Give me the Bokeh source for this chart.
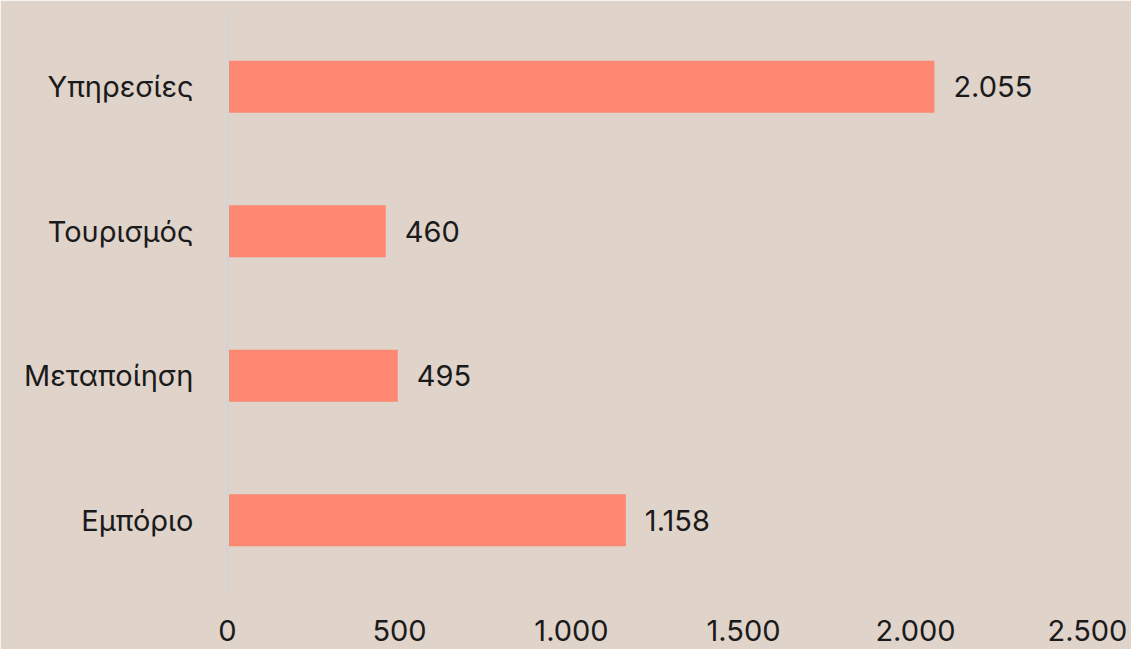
from bokeh.plotting import figure
from bokeh.models import Range1d, FactorRange, FixedTicker, ColumnDataSource
from bokeh.core.properties import value
from bokeh.embed import file_html
from bokeh.resources import INLINE

categories = ["Εμπόριο", "Μεταποίηση", "Τουρισμός", "Υπηρεσίες"]
values = [1158, 495, 460, 2055]
tick_values = [0, 500, 1000, 1500, 2000, 2500]
tick_labels = ["0", "500", "1.000", "1.500", "2.000", "2.500"]

BG = "#DFD3CA"
BAR = "#FF8873"
FONT = "Inter"
FS = "29px"
TXT = "#1a1a1a"

labels = [format(v, ",").replace(",", ".") for v in values]
src = ColumnDataSource(dict(cat=categories, val=values, lab=labels))

p = figure(width=1131, height=649, y_range=FactorRange(*categories),
           x_range=Range1d(0, 2500), output_backend="svg", toolbar_location=None,
           min_border_left=227, min_border_right=44, min_border_top=14, min_border_bottom=57)
p.background_fill_color = BG
p.border_fill_color = BG
p.outline_line_color = BG
p.outline_line_width = 2
p.xgrid.visible = False
p.ygrid.visible = False

p.hbar(y="cat", right="val", left=0, height=0.36, source=src, color=BAR, line_color=None)
p.text(x="val", y="cat", text="lab", source=src, x_offset=19, text_baseline="middle",
       text_align="left", text_font=value(FONT), text_font_size=FS, text_color=TXT)

xa = p.xaxis[0]
xa.ticker = FixedTicker(ticks=tick_values)
xa.major_label_overrides = {t: l for t, l in zip(tick_values, tick_labels)}
xa.axis_line_color = None
xa.major_tick_line_color = None
xa.minor_tick_line_color = None
xa.major_label_standoff = 21
xa.major_label_text_font = FONT
xa.major_label_text_font_size = FS
xa.major_label_text_color = TXT

ya = p.yaxis[0]
ya.axis_line_color = "#D4D4D7"
ya.axis_line_width = 3
ya.major_tick_line_color = None
ya.minor_tick_line_color = None
ya.major_label_standoff = 28
ya.major_label_text_font = FONT
ya.major_label_text_font_size = FS
ya.major_label_text_color = TXT

html = file_html(p, INLINE)
html = html.replace("<body>", '<body style="background:%s;">' % BG, 1)
open("out.html", "w").write(html)
